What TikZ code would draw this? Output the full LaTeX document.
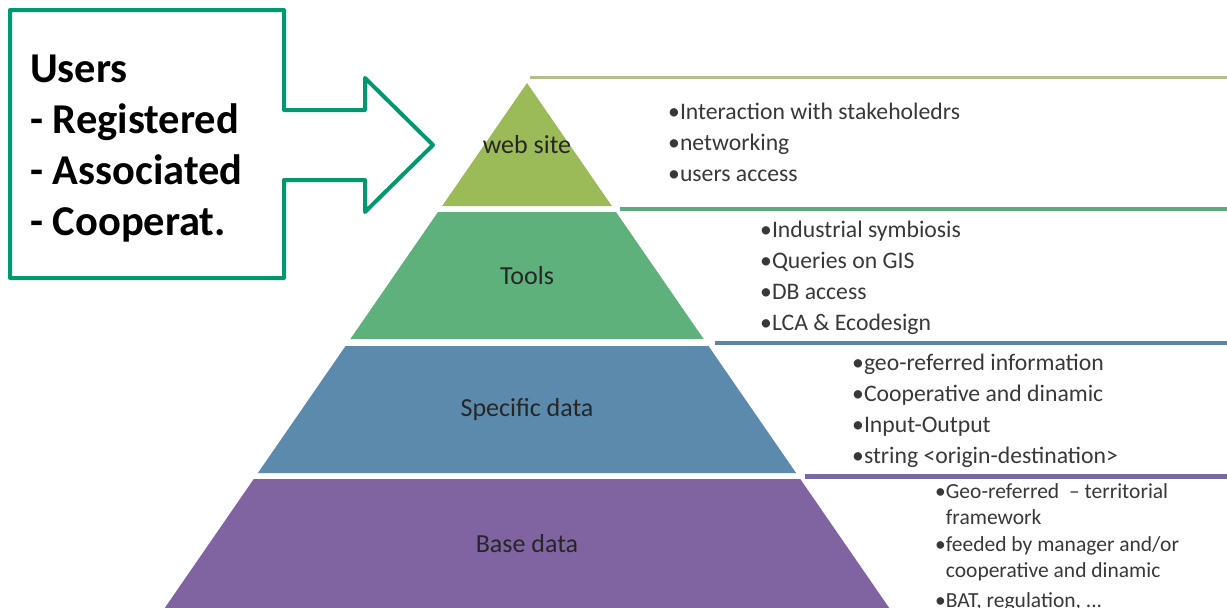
\documentclass[tikz,border=0pt]{standalone}
\usepackage{fontspec}
\setmainfont{Carlito}
\definecolor{usersgreen}{HTML}{00996F}
\definecolor{webolive}{HTML}{9BBB59}
\definecolor{toolsgreen}{HTML}{5EB17A}
\definecolor{specblue}{HTML}{5B8AAD}
\definecolor{basepurple}{HTML}{8064A2}
\definecolor{lineolive}{HTML}{B3BF86}
\definecolor{linegreen}{HTML}{5DAA7C}
\definecolor{lineblue}{HTML}{5F84A3}
\definecolor{linepurple}{HTML}{7868A8}
\tikzset{
  layer label/.style={font=\fontsize{26}{30}\selectfont, text=black!85},
  item list/.style={anchor=base west, align=left, inner sep=0pt, text=black!78,
    font=\fontsize{23.7}{31}\selectfont},
  callout/.style={draw=usersgreen, line width=4pt, line join=round, fill=white}
}
\begin{document}
\begin{tikzpicture}[x=1pt,y=-1pt]
  \useasboundingbox (0,0) rectangle (1227,608);

  % lines next to the layers
  \draw[line width=3pt,lineolive]  (530,77)  -- (1227,77);
  \draw[line width=4pt,linegreen]  (620,209) -- (1227,209);
  \draw[line width=4pt,lineblue]   (715,343) -- (1227,343);
  \draw[line width=5pt,linepurple] (805,476) -- (1227,476);

  % pyramid
  \foreach \ya/\yb/\col/\nm/\lab in {83/206/webolive/web/web site,
      212/339/toolsgreen/tools/Tools, 346/473/specblue/spec/Specific data,
      479/608/basepurple/base/Base data}
  {
    \fill[\col] ({527-0.69*(\ya-83)},\ya) -- ({527+0.69*(\ya-83)},\ya)
      -- ({527+0.69*(\yb-83)},\yb) -- ({527-0.69*(\yb-83)},\yb) -- cycle;
    \node[layer label] (\nm) at (527,{(\ya+\yb)/2}) {\lab};
  }

  % anchor base = baseline of the last line
  \node[item list] (webitems) at (668,181)
    {•Interaction with stakeholedrs\\•networking\\•users access};
  \node[item list] (toolsitems) at (760,330)
    {•Industrial symbiosis\\•Queries on GIS\\•DB access\\•LCA \& Ecodesign};
  \node[item list] (specitems) at (852,463)
    {•geo-referred information\\•Cooperative and dinamic\\•Input-Output\\•string <origin-destination>};
  \node[item list, font=\fontsize{21.5}{26}\selectfont] (baseitems) at (935,607)
    {•Geo-referred~ – territorial\\\phantom{•}framework\\[1pt]•feeded by manager and/or\\
     \phantom{•}cooperative and dinamic\\[4pt]•BAT, regulation, ...};

  % users callout
  \draw[callout] (10,10) -- (284,10) -- (284,110) -- (365,110) -- (365,78)
    -- (433,145) -- (365,212) -- (365,180) -- (284,180) -- (284,278)
    -- (10,278) -- cycle;
  \node[anchor=base west, align=left, inner sep=0pt,
    font=\bfseries\fontsize{42.5}{51}\selectfont] (users) at (30,235)
    {Users\\- Registered\\- Associated\\- Cooperat.};
\end{tikzpicture}
\end{document}
